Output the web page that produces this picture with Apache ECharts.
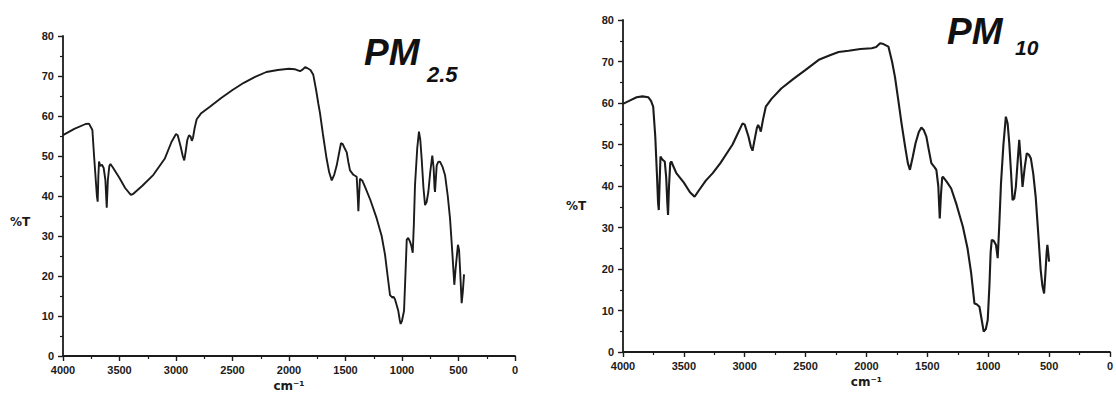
<!DOCTYPE html>
<html>
<head>
<meta charset="utf-8">
<script src="https://cdn.jsdelivr.net/npm/echarts@6/dist/echarts.min.js"></script>
<style>
  html, body { margin: 0; padding: 0; background: #ffffff; }
  #chart { width: 1116px; height: 397px; }
</style>
</head>
<body>
<div id="chart"></div>
<script>
// FTIR spectra, wavenumber (cm-1) vs transmittance (%T)
const xTicks = [0, 500, 1000, 1500, 2000, 2500, 3000, 3500, 4000];
const yTicks = [0, 10, 20, 30, 40, 50, 60, 70, 80];

const pm25Wavenumber = [
  4000, 3900, 3800, 3770, 3740, 3725, 3710, 3700, 3693, 3687, 3681, 3670, 3655, 3640, 3625, 3613, 3603, 3590, 3580, 3560,
  3500, 3450, 3400, 3380, 3300, 3200, 3100, 3040, 3000, 2985, 2960, 2940, 2927, 2915, 2900, 2885, 2870, 2860, 2850, 2835,
  2817, 2780, 2700, 2600, 2500, 2400, 2300, 2200, 2100, 2000, 1950, 1903, 1880, 1858, 1840, 1810, 1785, 1760, 1740, 1726,
  1700, 1667, 1645, 1622, 1600, 1578, 1555, 1540, 1525, 1505, 1489, 1475, 1460, 1430, 1401, 1392, 1386, 1380, 1372, 1350,
  1327, 1280, 1224, 1180, 1150, 1125, 1106, 1085, 1075, 1062, 1045, 1033, 1020, 1012, 1000, 982, 970, 958, 945, 929,
  917, 905, 895, 885, 865, 850, 838, 826, 810, 796, 782, 767, 750, 732, 720, 712, 708, 700, 693, 680,
  664, 640, 619, 595, 575, 555, 537, 525, 505, 495, 485, 472, 462, 451
];
const pm25Transmittance = [
  55.2, 56.8, 58.0, 58.1, 56.5, 50, 44, 40, 38.6, 45, 48.6, 47.5, 47.8, 47, 44, 37.1, 44, 47.5, 48, 47.2,
  44.5, 42, 40.3, 40.5, 42.5, 45.3, 49.3, 53.5, 55.5, 55.2, 52.5, 50, 48.9, 51, 54, 55.2, 54.8, 53.8, 54.5, 57,
  59.2, 60.6, 62.3, 64.5, 66.5, 68.3, 69.8, 71, 71.5, 71.8, 71.7, 71.2, 71.6, 72.2, 72, 71.5, 70.3, 66.5, 63, 60.8,
  55.5, 49.3, 46, 43.9, 45.3, 47.6, 51, 53.2, 53, 51.8, 50.9, 48.5, 46.4, 45.3, 44.8, 40, 36.2, 40, 44.3, 43.8,
  42.3, 39, 34.4, 30, 25.3, 19.5, 15.2, 14.6, 14.8, 14.2, 12.5, 11.3, 9, 8.0, 8.8, 11.3, 20, 29.1, 29.5, 28.6,
  27.5, 25.8, 33, 42.7, 52, 56.1, 54, 49.3, 42, 37.7, 38.5, 41.0, 46, 50.1, 47, 42, 41.0, 44.5, 47.6, 48.5,
  48.6, 47.2, 45.2, 40, 34.4, 26, 17.8, 22, 27.8, 26.5, 21, 13.2, 16, 20.4
];

const pm10Wavenumber = [
  4000, 3950, 3888, 3840, 3793, 3770, 3752, 3735, 3720, 3712, 3706, 3700, 3692, 3680, 3670, 3657, 3645, 3636, 3630, 3622,
  3612, 3603, 3590, 3562, 3500, 3450, 3412, 3380, 3320, 3263, 3200, 3100, 3018, 3000, 2970, 2950, 2936, 2920, 2900, 2890,
  2875, 2868, 2850, 2827, 2780, 2700, 2600, 2500, 2392, 2300, 2229, 2147, 2050, 1957, 1920, 1888, 1860, 1820, 1790, 1766,
  1740, 1712, 1680, 1660, 1643, 1620, 1597, 1570, 1549, 1530, 1508, 1490, 1467, 1440, 1426, 1410, 1398, 1388, 1378, 1371,
  1340, 1304, 1260, 1208, 1170, 1140, 1113, 1095, 1072, 1055, 1037, 1020, 1004, 990, 980, 971, 955, 936, 922, 910,
  895, 875, 855, 840, 827, 812, 800, 786, 773, 758, 745, 732, 718, 700, 683, 665, 650, 630, 610, 590,
  569, 555, 541, 530, 520, 514, 507, 500
];
const pm10Transmittance = [
  59.8, 60.5, 61.4, 61.6, 61.4, 60.5, 59.1, 52, 42, 36, 34.2, 40, 47.1, 46.5, 46.2, 45.9, 42, 36, 33.0, 40,
  45.5, 45.9, 45, 43.1, 40.8, 38.5, 37.4, 38.8, 41.3, 43.1, 45.5, 50, 55.1, 54.8, 52, 49.5, 48.5, 51, 54, 54.7,
  53.8, 53.1, 56, 59.1, 61, 63.5, 65.8, 68, 70.4, 71.5, 72.3, 72.6, 73, 73.2, 73.5, 74.4, 74.2, 73.6, 70, 66.3,
  61, 55.1, 49, 45.5, 43.9, 47, 50.3, 53, 54.1, 53.5, 51.9, 49, 45.5, 44.5, 43.9, 40, 32.2, 38, 42, 42.2,
  41, 39.4, 35.5, 30.2, 25, 19.0, 11.7, 11.5, 10.9, 8, 4.9, 5.5, 7.7, 16, 24, 27.0, 26.8, 25.8, 22.6, 30,
  40.6, 50, 56.7, 55, 50.3, 43, 36.6, 37, 39.8, 46, 51.1, 46, 39.8, 44.5, 47.9, 47.5, 46.7, 43, 37.4, 29,
  19.8, 16, 14.1, 19, 24, 25.8, 24, 21.8
];

const ink = "#1b1b1b";
const tickFont = { color: ink, fontSize: 11, fontWeight: "bold", fontFamily: "Liberation Sans, Arial, sans-serif" };

function zip(xs, ys) {
  return xs.map((x, i) => [x, ys[i]]);
}

function makeXAxis(gridIndex) {
  return {
    type: "value",
    gridIndex,
    inverse: true,
    min: xTicks[0],
    max: xTicks[xTicks.length - 1],
    interval: xTicks[1] - xTicks[0],
    name: "cm\u207B\u00B9",
    nameLocation: "middle",
    nameGap: 24,
    nameTextStyle: { color: ink, fontSize: 12, fontWeight: "bold", fontFamily: "DejaVu Sans, sans-serif" },
    axisLine: { onZero: false, lineStyle: { color: ink, width: 1.8 } },
    axisTick: { inside: false, length: 5, lineStyle: { color: ink, width: 1.4 } },
    minorTick: { show: true, splitNumber: 2, length: 3, lineStyle: { color: ink, width: 1.2 } },
    axisLabel: { ...tickFont, margin: 8, formatter: (v) => String(v) },
    splitLine: { show: false }
  };
}

function makeYAxis(gridIndex) {
  return {
    type: "value",
    gridIndex,
    min: yTicks[0],
    max: yTicks[yTicks.length - 1],
    interval: yTicks[1] - yTicks[0],
    axisLine: { onZero: false, lineStyle: { color: ink, width: 1.8 } },
    axisTick: { inside: false, length: 5, lineStyle: { color: ink, width: 1.4 } },
    minorTick: { show: true, splitNumber: 2, length: 3, lineStyle: { color: ink, width: 1.2 } },
    axisLabel: { ...tickFont, margin: 9, formatter: (v) => String(v) },
    splitLine: { show: false }
  };
}

const titleFont = { color: "#111", fontWeight: "bold", fontStyle: "italic", fontFamily: "Liberation Sans, Arial, sans-serif" };

const chart = echarts.init(document.getElementById("chart"), null, { renderer: "svg" });

chart.setOption({
  backgroundColor: "#ffffff",
  animation: false,
  title: [
    { text: "PM", left: 364, top: 34, padding: 0, textStyle: { ...titleFont, fontSize: 37 } },
    { text: "2.5", left: 427, top: 63, padding: 0, textStyle: { ...titleFont, fontSize: 22 } },
    { text: "PM", left: 947, top: 13, padding: 0, textStyle: { ...titleFont, fontSize: 37 } },
    { text: "10", left: 1015, top: 37, padding: 0, textStyle: { ...titleFont, fontSize: 21 } }
  ],
  graphic: [
    { type: "text", left: 10, top: 216, style: { text: "%T", fill: ink, font: "bold 12px DejaVu Sans, sans-serif" } },
    { type: "text", left: 566, top: 200, style: { text: "%T", fill: ink, font: "bold 12px DejaVu Sans, sans-serif" } }
  ],
  grid: [
    { left: 63, top: 36, width: 452, height: 323 },
    { left: 623, top: 20, width: 490, height: 332 }
  ],
  xAxis: [makeXAxis(0), makeXAxis(1)],
  yAxis: [makeYAxis(0), makeYAxis(1)],
  series: [
    {
      name: "PM2.5",
      type: "line",
      xAxisIndex: 0,
      yAxisIndex: 0,
      data: zip(pm25Wavenumber, pm25Transmittance),
      showSymbol: false,
      lineStyle: { color: ink, width: 1.9 }
    },
    {
      name: "PM10",
      type: "line",
      xAxisIndex: 1,
      yAxisIndex: 1,
      data: zip(pm10Wavenumber, pm10Transmittance),
      showSymbol: false,
      lineStyle: { color: ink, width: 2.1 }
    }
  ]
});
</script>
</body>
</html>
